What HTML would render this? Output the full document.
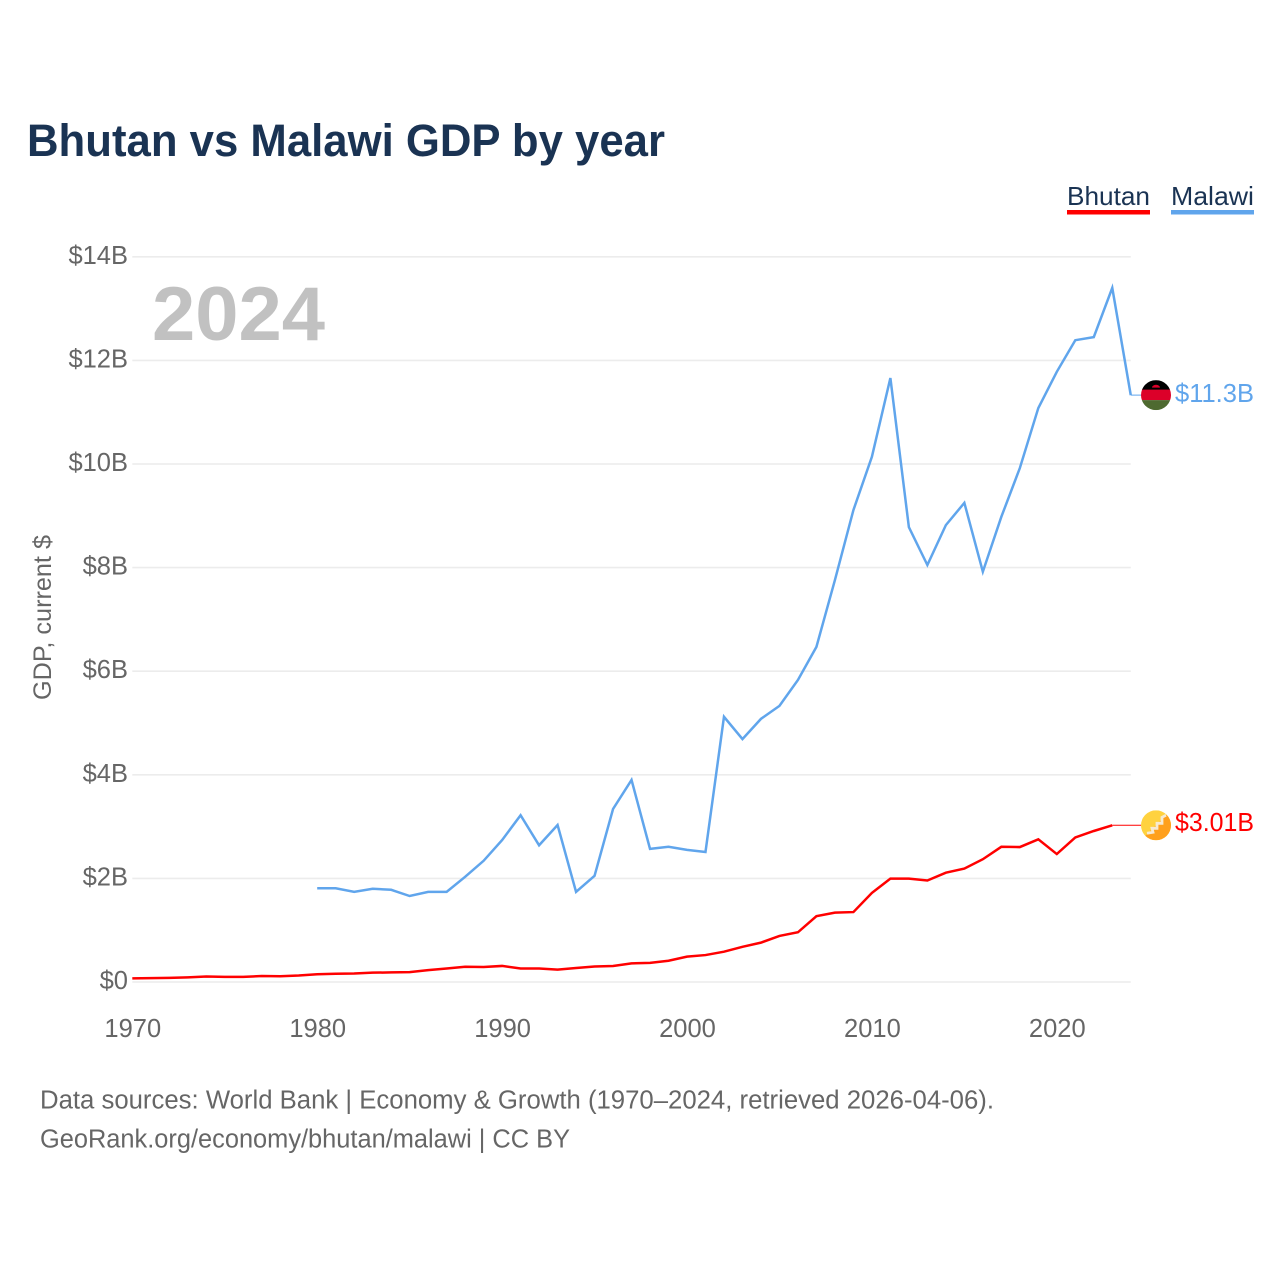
<!DOCTYPE html>
<html lang="en">
<head>
<meta charset="utf-8">
<title>Bhutan vs Malawi GDP by year</title>
<style>
  html, body { margin: 0; padding: 0; background: #fff; }
  svg { display: block; font-family: "Liberation Sans", sans-serif; }
</style>
</head>
<body>
<svg id="chart" width="1280" height="1280" viewBox="0 0 1280 1280" xmlns="http://www.w3.org/2000/svg">
  <defs>
    <clipPath id="flag-clip"><circle cx="0" cy="0" r="15"></circle></clipPath>
  </defs>
  <rect x="0" y="0" width="1280" height="1280" fill="#ffffff"></rect>

  <text x="27" y="156" font-size="45" font-weight="700" fill="#1a3353" textLength="638" lengthAdjust="spacingAndGlyphs">Bhutan vs Malawi GDP by year</text>

  <g>
    <g>
      <text x="1067" y="205" font-size="26" fill="#1a3353" textLength="83" lengthAdjust="spacingAndGlyphs">Bhutan</text>
      <rect x="1067" y="210" width="83" height="4.5" fill="#ff0000"></rect>
    </g>
    <g>
      <text x="1171" y="205" font-size="26" fill="#1a3353" textLength="83" lengthAdjust="spacingAndGlyphs">Malawi</text>
      <rect x="1171" y="210" width="83" height="4.5" fill="#60a5ec"></rect>
    </g>
  </g>

  <g id="grid"></g>
  <g id="y-ticks"></g>
  <g id="x-ticks"></g>

  <text x="152" y="340" font-size="76" font-weight="700" fill="#c1c1c1" textLength="173" lengthAdjust="spacingAndGlyphs">2024</text>

  <text transform="translate(51 700) rotate(-90)" x="0" y="0" font-size="25" fill="#666666" textLength="165" lengthAdjust="spacingAndGlyphs">GDP, current $</text>

  <g id="series"></g>

  <g id="flag-malawi">
    <g clip-path="url(#flag-clip)">
      <rect x="-15" y="-15" width="30" height="10" fill="#000000"></rect>
      <rect x="-15" y="-5.5" width="30" height="10.5" fill="#dc0029"></rect>
      <rect x="-15" y="5" width="30" height="10" fill="#4e6a30"></rect>
      <path d="M-4 -7.5 A4 2.8 0 0 1 4 -7.5 Z" fill="#dc0029"></path>
    </g>
  </g>
  <g id="flag-bhutan">
    <g clip-path="url(#flag-clip)">
      <rect x="-15" y="-15" width="30" height="30" fill="#ffd23f"></rect>
      <path d="M-15 15 L15 -15 L15 15 Z" fill="#ffa01c"></path>
      <path d="M-9 8 L-3 7 L-4 3 L1 3 L1 -2 L6 -2 L6 -8 L10 -10" fill="none" stroke="#f7ead2" stroke-width="2.8"></path>
    </g>
  </g>

  <text id="value-malawi" x="1175" font-size="25.5" fill="#60a5ec" textLength="79" lengthAdjust="spacingAndGlyphs">$11.3B</text>
  <text id="value-bhutan" x="1175" font-size="25.5" fill="#ff0000" textLength="79" lengthAdjust="spacingAndGlyphs">$3.01B</text>

  <g>
    <text x="40" y="1108.5" font-size="25.5" fill="#666666" textLength="954" lengthAdjust="spacingAndGlyphs">Data sources: World Bank | Economy &amp; Growth (1970–2024, retrieved 2026-04-06).</text>
    <text x="40" y="1147.5" font-size="25.5" fill="#666666" textLength="530" lengthAdjust="spacingAndGlyphs">GeoRank.org/economy/bhutan/malawi | CC BY</text>
  </g>
</svg>

<script>
// Chart data (GDP in billions of current US$)
const xTickYears = [1970, 1980, 1990, 2000, 2010, 2020];
const yTickValues = [0, 2, 4, 6, 8, 10, 12, 14];
const yTickLabels = ["$0", "$2B", "$4B", "$6B", "$8B", "$10B", "$12B", "$14B"];
const bhutanStartYear = 1970;
const bhutanValues = [
  0.07, 0.075, 0.08, 0.09, 0.105, 0.10, 0.10, 0.115, 0.11, 0.125,
  0.15, 0.16, 0.165, 0.18, 0.185, 0.19, 0.23, 0.26, 0.295, 0.29,
  0.31, 0.26, 0.26, 0.24, 0.27, 0.30, 0.31, 0.36, 0.37, 0.41,
  0.49, 0.52, 0.585, 0.68, 0.76, 0.89, 0.96, 1.27, 1.34, 1.35,
  1.72, 1.995, 1.995, 1.96, 2.11, 2.19, 2.37, 2.61, 2.605, 2.755,
  2.47, 2.79, 2.915, 3.025
];
const malawiStartYear = 1980;
const malawiValues = [
  1.81, 1.81, 1.74, 1.80, 1.78, 1.66, 1.74, 1.74, 2.03, 2.34,
  2.74, 3.22, 2.64, 3.03, 1.74, 2.05, 3.34, 3.90, 2.57, 2.61,
  2.55, 2.51, 5.12, 4.69, 5.08, 5.33, 5.83, 6.47, 7.76, 9.11,
  10.14, 11.66, 8.78, 8.05, 8.82, 9.25, 7.92, 8.98, 9.92, 11.08,
  11.78, 12.39, 12.45, 13.40, 11.33
];

const SVG_NS = "http://www.w3.org/2000/svg";
const xScale = function (year) { return 132.3 + (year - 1970) * 18.49; };
const yScale = function (value) { return 982 - value * 51.8; };
const PLOT_LEFT = xScale(1970);
const PLOT_RIGHT = xScale(2024);
const FLAG_X = 1156;

function svgEl(tag) { return document.createElementNS(SVG_NS, tag); }

function pointsFor(values, startYear) {
  return values.map(function (v, i) {
    return xScale(startYear + i).toFixed(2) + "," + yScale(v).toFixed(2);
  }).join(" ");
}

const gridGroup = document.getElementById("grid");
const yTickGroup = document.getElementById("y-ticks");
yTickValues.forEach(function (v, i) {
  const line = svgEl("line");
  
  
  line.setAttribute("x1", PLOT_LEFT);
  line.setAttribute("x2", PLOT_RIGHT);
  line.setAttribute("y1", yScale(v));
  line.setAttribute("y2", yScale(v));
  line.setAttribute("stroke", "#ececec");
  line.setAttribute("stroke-width", "1.6");
  gridGroup.appendChild(line);

  const label = svgEl("text");
  
  
  label.setAttribute("x", 128);
  label.setAttribute("y", yScale(v) + 7);
  label.setAttribute("text-anchor", "end");
  label.setAttribute("font-size", "25.5");
  label.setAttribute("fill", "#666666");
  label.textContent = yTickLabels[i];
  yTickGroup.appendChild(label);
});

const xTickGroup = document.getElementById("x-ticks");
xTickYears.forEach(function (year) {
  const label = svgEl("text");
  
  
  label.setAttribute("x", xScale(year) + 0.5);
  label.setAttribute("y", 1037);
  label.setAttribute("text-anchor", "middle");
  label.setAttribute("font-size", "25.5");
  label.setAttribute("fill", "#666666");
  label.textContent = String(year);
  xTickGroup.appendChild(label);
});

const seriesGroup = document.getElementById("series");

const malawiLine = svgEl("polyline");


malawiLine.setAttribute("points", pointsFor(malawiValues, malawiStartYear));
malawiLine.setAttribute("fill", "none");
malawiLine.setAttribute("stroke", "#60a5ec");
malawiLine.setAttribute("stroke-width", "2.5");
seriesGroup.appendChild(malawiLine);

const bhutanLine = svgEl("polyline");


bhutanLine.setAttribute("points", pointsFor(bhutanValues, bhutanStartYear));
bhutanLine.setAttribute("fill", "none");
bhutanLine.setAttribute("stroke", "#ff0000");
bhutanLine.setAttribute("stroke-width", "2.5");
seriesGroup.appendChild(bhutanLine);

const malawiLastY = yScale(malawiValues[malawiValues.length - 1]);
const malawiLastX = xScale(malawiStartYear + malawiValues.length - 1);
const bhutanLastY = yScale(bhutanValues[bhutanValues.length - 1]);
const bhutanLastX = xScale(bhutanStartYear + bhutanValues.length - 1);

const malawiLeader = svgEl("line");


malawiLeader.setAttribute("x1", malawiLastX);
malawiLeader.setAttribute("x2", FLAG_X - 15);
malawiLeader.setAttribute("y1", malawiLastY);
malawiLeader.setAttribute("y2", malawiLastY);
malawiLeader.setAttribute("stroke", "#60a5ec");
malawiLeader.setAttribute("stroke-width", "1");
seriesGroup.appendChild(malawiLeader);

const bhutanLeader = svgEl("line");


bhutanLeader.setAttribute("x1", bhutanLastX);
bhutanLeader.setAttribute("x2", FLAG_X - 15);
bhutanLeader.setAttribute("y1", bhutanLastY);
bhutanLeader.setAttribute("y2", bhutanLastY);
bhutanLeader.setAttribute("stroke", "#ff0000");
bhutanLeader.setAttribute("stroke-width", "1");
seriesGroup.appendChild(bhutanLeader);

document.getElementById("flag-malawi").setAttribute("transform", "translate(" + FLAG_X + " " + malawiLastY + ")");
document.getElementById("flag-bhutan").setAttribute("transform", "translate(" + FLAG_X + " " + bhutanLastY + ")");
document.getElementById("value-malawi").setAttribute("y", malawiLastY + 7);
document.getElementById("value-bhutan").setAttribute("y", bhutanLastY + 5.5);
</script>
</body>
</html>
